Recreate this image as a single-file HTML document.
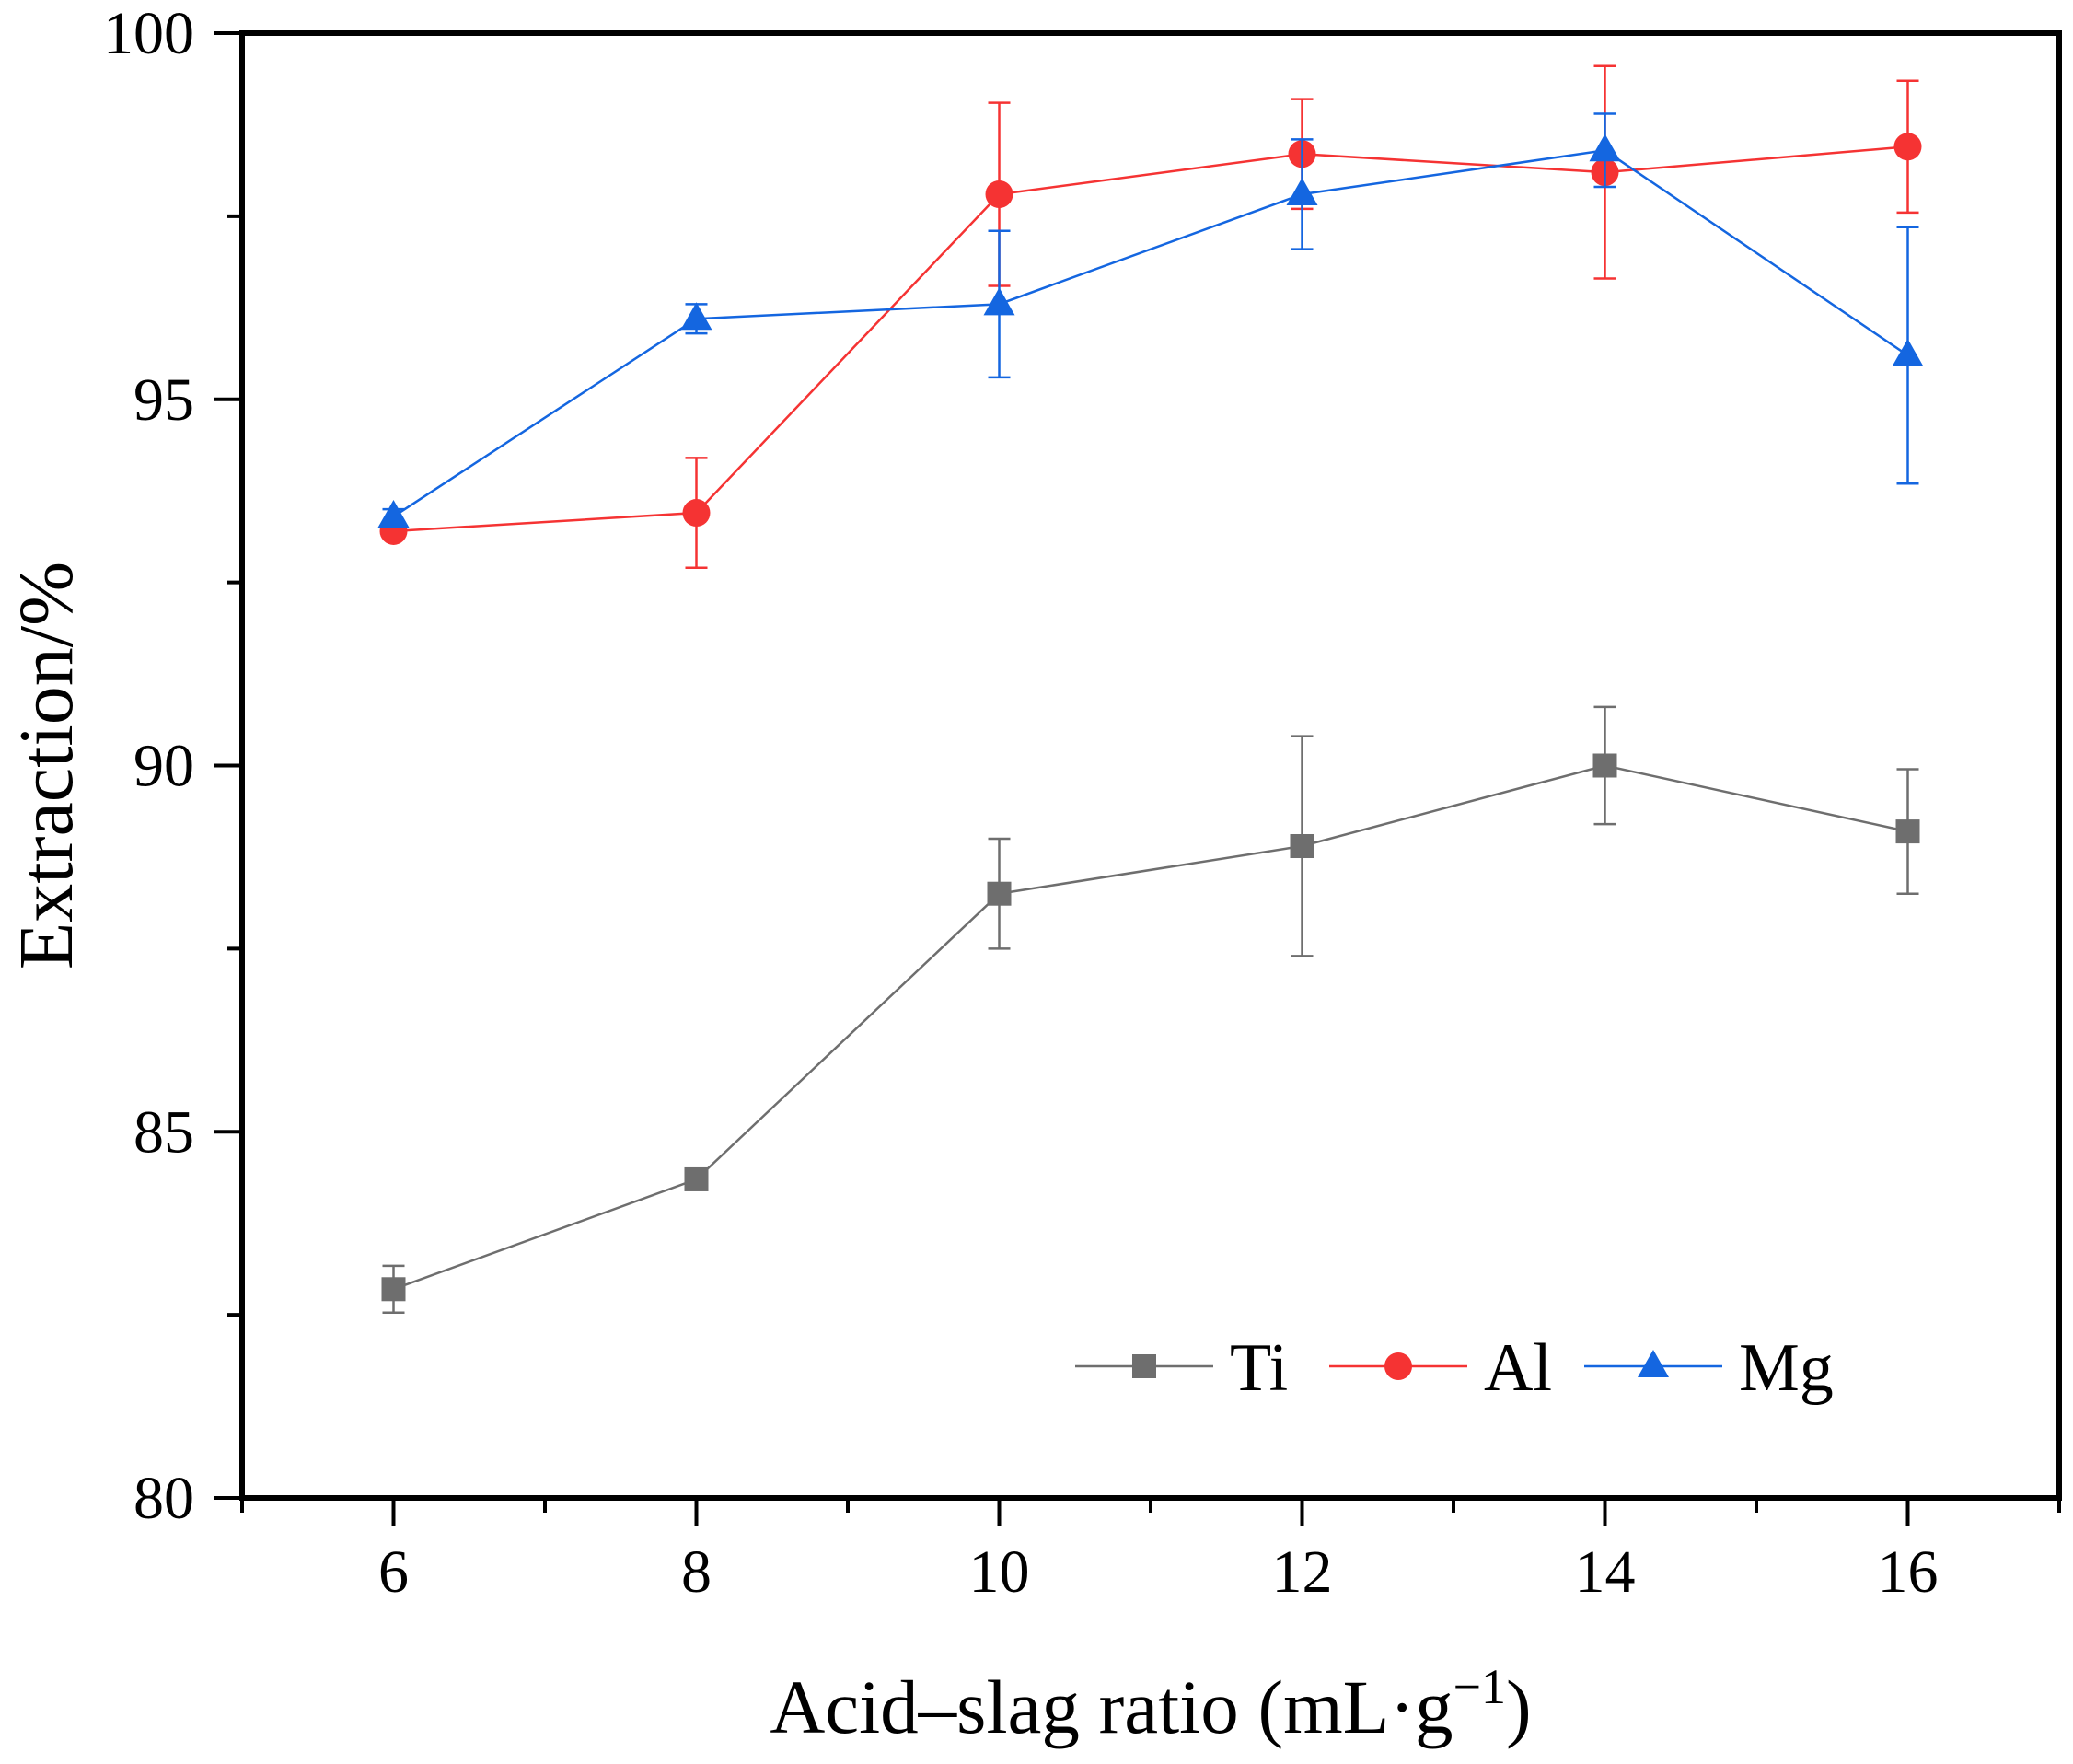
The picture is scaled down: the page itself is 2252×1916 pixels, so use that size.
<!DOCTYPE html>
<html><head><meta charset="utf-8"><style>body{margin:0;background:#fff}svg{display:block}text{font-family:"Liberation Serif",serif;fill:#000}</style></head>
<body>
<svg id="chart" width="2252" height="1916" viewBox="0 0 2252 1916" xmlns="http://www.w3.org/2000/svg">
<g id="axes"></g><g id="series"></g><g id="legend"></g>
</svg>
<script>
const categories=[6,8,10,12,14,16];
const tiValues=[82.85,84.35,88.25,88.9,90.0,89.1];
const tiErrors=[0.32,0.12,0.75,1.5,0.8,0.85];
const alValues=[93.2,93.45,97.8,98.35,98.1,98.45];
const alErrors=[0.05,0.75,1.25,0.75,1.45,0.9];
const mgValues=[93.4,96.1,96.3,97.8,98.4,95.6];
const mgErrors=[0.1,0.2,1.0,0.75,0.5,1.75];
const xTicks=[6,8,10,12,14,16];
const yTicks=[80,85,90,95,100];
const L=263,R=2237,T=36,B=1627;
const X=v=>L+(v-5)/12*(R-L);
const Y=v=>B-(v-80)/20*(B-T);
const NS="http://www.w3.org/2000/svg";
function mk(tag,attrs,parent,txt){const e=document.createElementNS(NS,tag);for(const k in attrs)e.setAttribute(k,attrs[k]);if(txt!==undefined)e.textContent=txt;parent.appendChild(e);return e;}
const ax=document.getElementById('axes');
let frame=mk('rect',{x:L,y:T,width:R-L,height:B-T,fill:'none',stroke:'#000','stroke-width':6},ax);


for(let v=5;v<=17;v++){const major=xTicks.includes(v);
 let t=mk('line',{x1:X(v),x2:X(v),y1:B,y2:B+(major?30:16),stroke:'#000','stroke-width':4},ax);
 
 }
xTicks.forEach(v=>{let t=mk('text',{x:X(v),y:B+102,'font-size':66,'text-anchor':'middle'},ax,v);
 
 });
for(let v=80;v<=100;v+=2.5){const major=yTicks.includes(v);
 let t=mk('line',{x1:L,x2:L-(major?30:16),y1:Y(v),y2:Y(v),stroke:'#000','stroke-width':4},ax);
 
 }
yTicks.forEach(v=>{let t=mk('text',{x:L-52,y:Y(v)+22,'font-size':66,'text-anchor':'end'},ax,v);
 
 });
let xt=mk('text',{x:1250,y:1882,'font-size':83,'text-anchor':'middle'},ax);
xt.innerHTML='Acid–slag ratio (mL·g<tspan dy="-32" font-size="54">−1</tspan><tspan dy="32">)</tspan>';


let yt=mk('text',{x:0,y:0,'font-size':84,'text-anchor':'middle',transform:'translate(78,'+((T+B)/2)+') rotate(-90)'},ax,'Extraction/%');


function marker(type,x,y,color,g){
 if(type==='square')return mk('rect',{x:x-13,y:y-13,width:26,height:26,fill:color},g);
 if(type==='circle')return mk('circle',{cx:x,cy:y,r:15,fill:color},g);
 return mk('polygon',{points:`${x},${y-18} ${x+17},${y+12} ${x-17},${y+12}`,fill:color},g);
}
const sg=document.getElementById('series');
function series(name,vals,errs,color,type){
 const g=mk('g',{},sg);
 
 
 vals.forEach((v,i)=>{const x=X(categories[i]);
  const eb=mk('path',{d:`M${x},${Y(v-errs[i])}V${Y(v+errs[i])}M${x-12},${Y(v-errs[i])}H${x+12}M${x-12},${Y(v+errs[i])}H${x+12}`,stroke:color,'stroke-width':2.5,fill:'none'},g);
  
  });
 const ln=mk('polyline',{points:vals.map((v,i)=>X(categories[i])+','+Y(v)).join(' '),fill:'none',stroke:color,'stroke-width':2.5},g);
 
 
 vals.forEach((v,i)=>{const m=marker(type,X(categories[i]),Y(v),color,g);
  
  });
}
series('ti',tiValues,tiErrors,'#6e6e6e','square');
series('al',alValues,alErrors,'#f53333','circle');
series('mg',mgValues,mgErrors,'#1466e0','triangle');
const lg=document.getElementById('legend');
[['Ti','#6e6e6e','square',1168],['Al','#f53333','circle',1444],['Mg','#1466e0','triangle',1721]].forEach(([n,c,t,x0])=>{
 const g=mk('g',{},lg);
 
 
 mk('line',{x1:x0,x2:x0+150,y1:1484,y2:1484,stroke:c,'stroke-width':2.5},g);
 marker(t,x0+75,1484,c,g);
 mk('text',{x:x0+168,y:1510,'font-size':74},g,n);
});
</script>
</body></html>
